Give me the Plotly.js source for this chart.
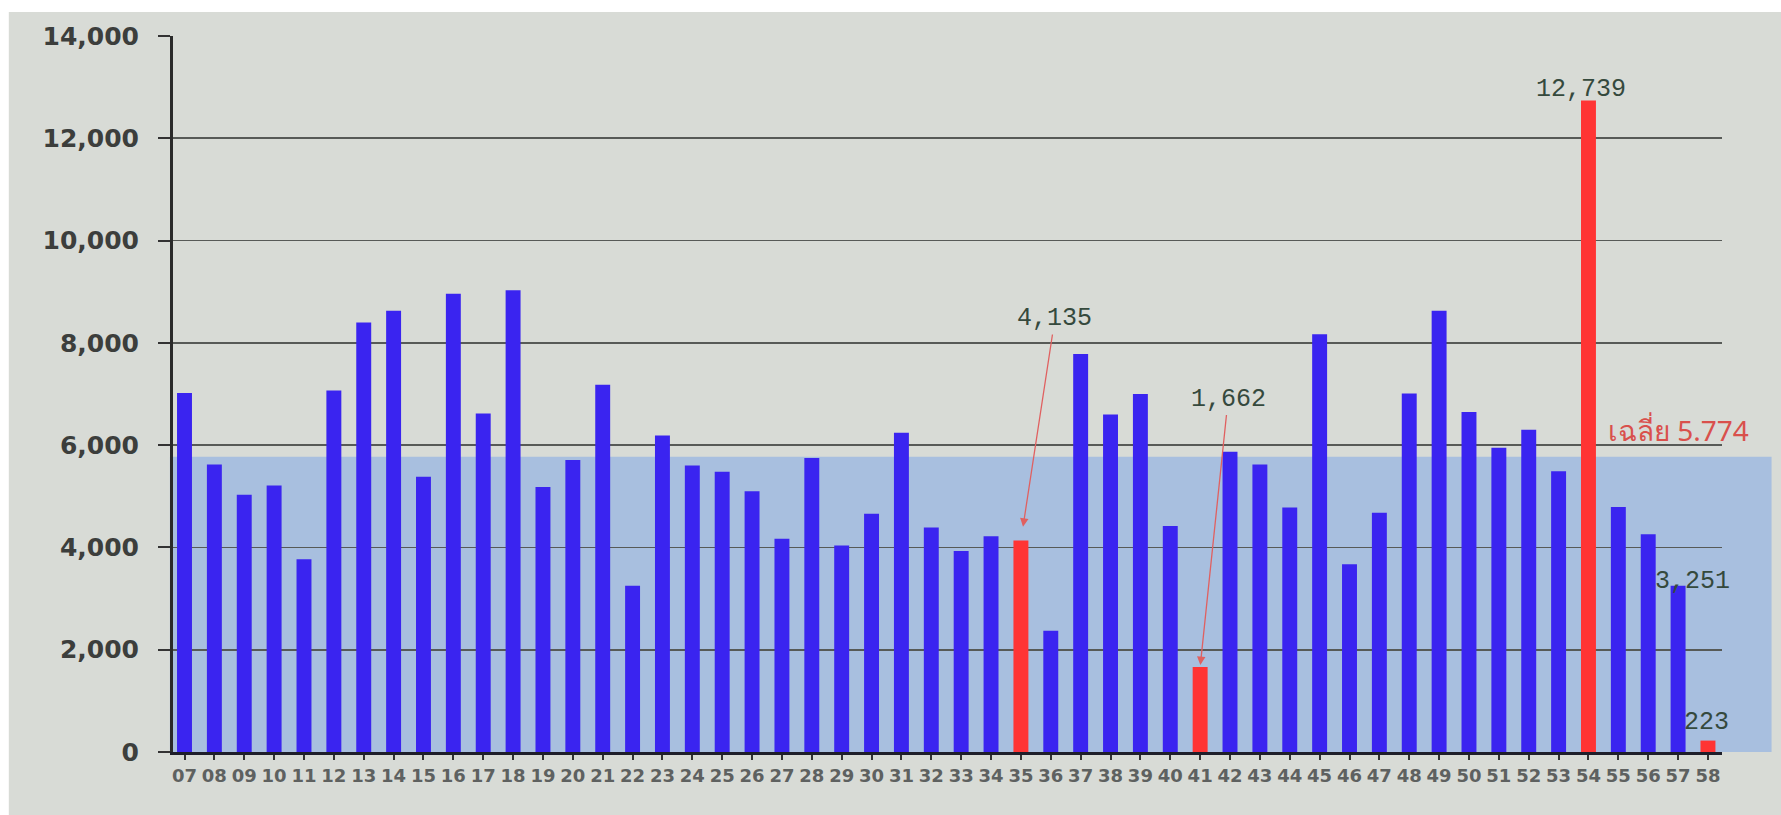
<!DOCTYPE html>
<html>
<head>
<meta charset="utf-8">
<script src="https://cdn.plot.ly/plotly-3.0.1.min.js"></script>
<style>
html,body{margin:0;padding:0;background:#ffffff;}
#chart{width:1781px;height:815px;}
</style>
</head>
<body>
<div id="chart"></div>
<script>
// ---- data ----
const categories = ['07','08','09','10','11','12','13','14','15','16','17','18','19','20','21','22','23','24','25','26','27','28','29','30','31','32','33','34','35','36','37','38','39','40','41','42','43','44','45','46','47','48','49','50','51','52','53','54','55','56','57','58'];
const values = [7020,5620,5030,5210,3770,7070,8400,8630,5380,8960,6620,9030,5180,5710,7180,3250,6190,5600,5480,5100,4170,5750,4040,4660,6240,4390,3930,4220,4135,2370,7780,6600,7000,4420,1662,5870,5620,4780,8170,3670,4680,7010,8630,6650,5950,6300,5490,12739,4790,4260,3251,223];
const highlightCats = ['35','41','54','58'];
const avgValue = 5774;
const avgLabel = 'เฉลี่ย 5.774';
const yTickVals = [0,2000,4000,6000,8000,10000,12000,14000];

// ---- styles ----
const blue = '#3a24f0';
const red = '#ff3434';
const barColors = categories.map(c => highlightCats.includes(c) ? red : blue);
const fmt = v => v.toLocaleString('en-US');
const idx = c => categories.indexOf(c);
const valOf = c => values[idx(c)];
const numFont = {family:'Liberation Mono, DejaVu Sans Mono, monospace', size:25, color:'#35493d'};

const trace = {
  type:'bar', x:categories, y:values,
  marker:{color:barColors, line:{width:0}},
  hoverinfo:'x+y'
};

const annotations = [
  {x:idx('35'), y:valOf('35'), text:fmt(valOf('35')), showarrow:true, ax:34, ay:-222, standoff:14,
   arrowcolor:'#e06060', arrowwidth:1.3, arrowhead:2, arrowsize:1.3, font:numFont},
  {x:idx('41'), y:valOf('41'), text:fmt(valOf('41')), showarrow:true, ax:28, ay:-268, standoff:2,
   arrowcolor:'#e06060', arrowwidth:1.3, arrowhead:2, arrowsize:1.3, font:numFont},
  {x:idx('54'), y:valOf('54'), text:fmt(valOf('54')), showarrow:false, yanchor:'bottom', yshift:-6, xshift:-7, font:numFont},
  {x:idx('57'), y:valOf('57'), text:fmt(valOf('57')), showarrow:false, yanchor:'middle', yshift:4, xshift:14, font:numFont},
  {x:idx('58'), y:valOf('58'), text:fmt(valOf('58')), showarrow:false, yanchor:'bottom', yshift:2, xshift:-1, font:numFont},
  {x:idx('54'), y:avgValue, text:avgLabel, showarrow:false, xanchor:'left', yanchor:'bottom', xshift:18, yshift:6,
   font:{family:'Noto Sans, DejaVu Sans, sans-serif', size:28, color:'#d9504c'}}
];

const layout = {
  width:1781, height:815, autosize:false,
  margin:{l:173, r:59, t:36, b:63, pad:0},
  paper_bgcolor:'#ffffff',
  plot_bgcolor:'rgba(0,0,0,0)',
  showlegend:false,
  bargap:0.5,
  font:{family:'DejaVu Sans, sans-serif'},
  xaxis:{
    type:'category', range:[-0.385, 51.47],
    showline:true, linecolor:'#1e1e2a', linewidth:3,
    ticks:'outside', ticklen:5, tickwidth:2, tickcolor:'#333',
    showgrid:false, zeroline:false,
    tickfont:{family:'DejaVu Sans, sans-serif', size:18, weight:'bold', color:'#5e6160'},
    tickangle:0
  },
  yaxis:{
    range:[0,14000], tickvals:yTickVals, tickformat:',d',
    showline:true, linecolor:'#2a2a2a', linewidth:3,
    ticks:'outside', ticklen:12, tickwidth:2, tickcolor:'#333',
    showgrid:true, gridcolor:'#575a57', gridwidth:1.6, zeroline:false,
    tickfont:{family:'DejaVu Sans, sans-serif', size:25, weight:'bold', color:'#3c3e3c'},
    ticklabelstandoff:14
  },
  shapes:[
    {type:'rect', xref:'paper', yref:'paper', x0:-0.106, x1:1.04, y0:-0.09, y1:1.0335,
     fillcolor:'#d8dbd6', line:{width:0}, layer:'below'},
    {type:'rect', xref:'paper', yref:'y', x0:-0.002, x1:1.032, y0:0, y1:avgValue,
     fillcolor:'#a8bfdf', line:{width:0}, layer:'below'}
  ],
  annotations:annotations
};

Plotly.newPlot('chart', [trace], layout, {displayModeBar:false, staticPlot:true});
</script>
</body>
</html>
